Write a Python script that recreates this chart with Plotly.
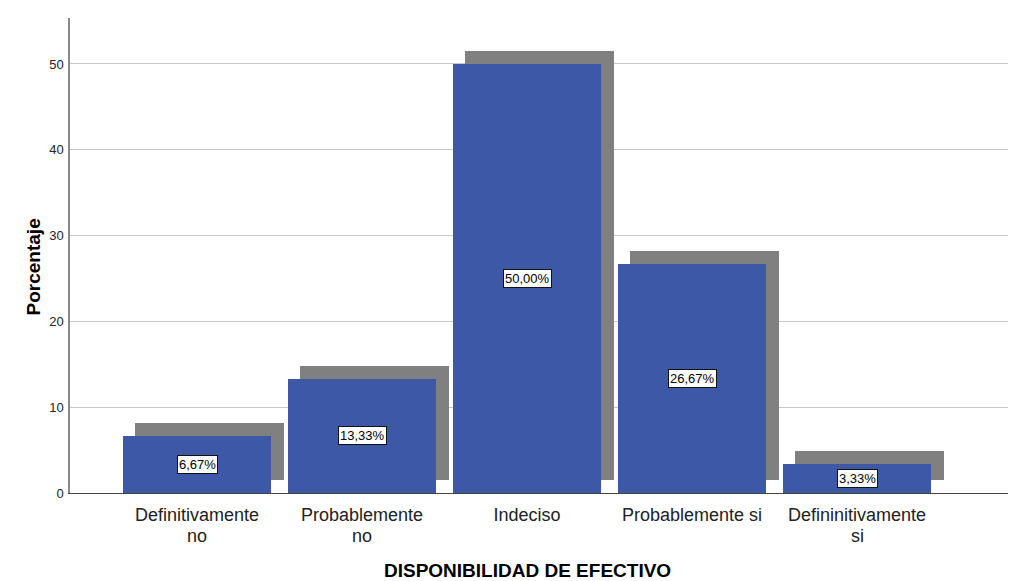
import plotly.graph_objects as go

categories = ["Definitivamente<br>no", "Probablemente<br>no", "Indeciso",
              "Probablemente si", "Defininitivamente<br>si"]
values = [6.67, 13.33, 50.00, 26.67, 3.33]
labels = ["6,67%", "13,33%", "50,00%", "26,67%", "3,33%"]
y_ticks = [0, 10, 20, 30, 40, 50]

FONT = "Liberation Sans, Arial"
xpos = list(range(len(categories)))
dx = 0.076   # shadow shift in category units
dy = 1.52    # shadow shift in value units

first_lines = [c.split("<br>")[0] for c in categories]
second_lines = [c.split("<br>")[1] if "<br>" in c else "" for c in categories]

fig = go.Figure()
fig.add_trace(go.Bar(
    x=[p + dx for p in xpos], y=values, base=[dy] * len(values),
    width=0.9, marker=dict(color="#808080", line=dict(width=0)),
    hoverinfo="skip", showlegend=False))
fig.add_trace(go.Bar(
    x=xpos, y=values, width=0.9,
    marker=dict(color="#3E58A8", line=dict(width=0)),
    showlegend=False))

for p, v, t in zip(xpos, values, labels):
    fig.add_annotation(x=p, y=v / 2, text=t, showarrow=False,
                       font=dict(family=FONT, size=13, color="black"),
                       bgcolor="white", bordercolor="#111", borderwidth=1, borderpad=1)

for p, t in zip(xpos, second_lines):
    if t:
        fig.add_annotation(x=p, y=0, yref="paper", text=t, showarrow=False,
                           yanchor="top", yshift=-31,
                           font=dict(family=FONT, size=18, color="#222"))

# axis titles
fig.add_annotation(x=0.488, y=0, xref="paper", yref="paper", yanchor="middle",
                   yshift=-77, text="<b>DISPONIBILIDAD DE EFECTIVO</b>", showarrow=False,
                   font=dict(family=FONT, size=19, color="black"))
fig.add_annotation(x=-0.0522, y=0.476, xref="paper", yref="paper", textangle=-90,
                   text="<b>Porcentaje</b>", showarrow=False,
                   font=dict(family=FONT, size=19, color="black"))

fig.update_layout(
    width=1014, height=573,
    margin=dict(l=62, r=14, t=10, b=88),
    paper_bgcolor="white", plot_bgcolor="white",
    barmode="overlay", bargap=0,
    font=dict(family=FONT, color="black"),
    xaxis=dict(range=[-0.77, 4.915], tickvals=xpos, ticktext=first_lines,
               tickfont=dict(size=18, color="#222"), showgrid=False, zeroline=False,
               showline=True, linecolor="#444", linewidth=1, ticks="",
               ticklabelstandoff=5, automargin=False),
    yaxis=dict(range=[0, 55.36], tickvals=y_ticks, tickfont=dict(size=13, color="#222"),
               showgrid=True, gridcolor="#c8c8c8", gridwidth=1, zeroline=False,
               showline=True, linecolor="#888", linewidth=1.5, ticks="",
               ticklabelstandoff=2, automargin=False),
)

fig.write_html("out.html")
